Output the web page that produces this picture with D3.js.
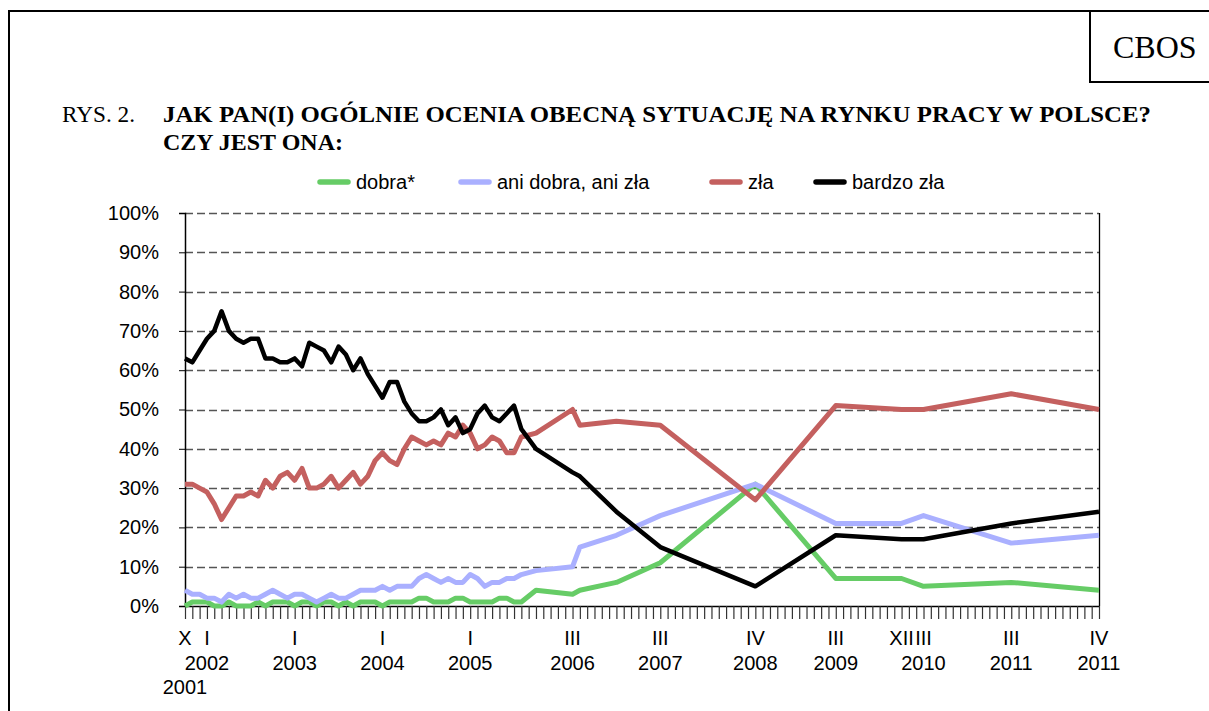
<!DOCTYPE html>
<html>
<head>
<meta charset="utf-8">
<script src="https://cdn.jsdelivr.net/npm/d3@7"></script>
<style>
  body { margin: 0; background: #fff; }
  svg { display: block; }
</style>
</head>
<body>
<div id="chart"></div>
<script>
// months counted from X 2001 (index 0) - one survey per index below
var surveyMonths = [0, 1, 2, 3, 4, 5, 6, 7, 8, 9, 10, 11, 12, 13, 14, 15, 16, 17, 18, 19,
  20, 21, 22, 23, 24, 25, 26, 27, 28, 29, 30, 31, 32, 33, 34, 35, 36, 37, 38, 39,
  40, 41, 42, 43, 44, 45, 46, 48, 53, 54, 59, 65, 78, 89, 98, 101, 113, 125];

var dobra = [0, 1, 1, 1, 0, 0, 1, 0, 0, 0, 1, 0, 1, 1, 1, 0, 1, 1, 0, 1,
  1, 0, 1, 0, 1, 1, 1, 0, 1, 1, 1, 1, 2, 2, 1, 1, 1, 2, 2, 1,
  1, 1, 1, 2, 2, 1, 1, 4, 3, 4, 6, 11, 31, 7, 7, 5, 6, 4];

var aniDobraAniZla = [4, 3, 3, 2, 2, 1, 3, 2, 3, 2, 2, 3, 4, 3, 2, 3, 3, 2, 1, 2,
  3, 2, 2, 3, 4, 4, 4, 5, 4, 5, 5, 5, 7, 8, 7, 6, 7, 6, 6, 8,
  7, 5, 6, 6, 7, 7, 8, 9, 10, 15, 18, 23, 31, 21, 21, 23, 16, 18];

var zla = [31, 31, 30, 29, 26, 22, 25, 28, 28, 29, 28, 32, 30, 33, 34, 32, 35, 30, 30, 31,
  33, 30, 32, 34, 31, 33, 37, 39, 37, 36, 40, 43, 42, 41, 42, 41, 44, 43, 46, 44,
  40, 41, 43, 42, 39, 39, 43, 44, 50, 46, 47, 46, 27, 51, 50, 50, 54, 50];

var bardzoZla = [63, 62, 65, 68, 70, 75, 70, 68, 67, 68, 68, 63, 63, 62, 62, 63, 61, 67, 66, 65,
  62, 66, 64, 60, 63, 59, 56, 53, 57, 57, 52, 49, 47, 47, 48, 50, 46, 48, 44, 45,
  49, 51, 48, 47, 49, 51, 45, 40, 34, 33, 24, 15, 5, 18, 17, 17, 21, 24];

var seriesNames = ["dobra*", "ani dobra, ani zła", "zła", "bardzo zła"];
var seriesColors = ["#66cc66", "#aab0ff", "#c4605f", "#000000"];

// x axis labels
var labelMonths = [0, 3, 15, 27, 39, 53, 65, 78, 89, 98, 101, 113, 125];
var labelMonthNames = ["X", "I", "I", "I", "I", "III", "III", "IV", "III", "XII", "III", "III", "IV"];
var labelYears = ["", "2002", "2003", "2004", "2005", "2006", "2007", "2008", "2009", "", "2010", "2011", "2011"];
var firstYear = "2001";
var lastMonth = 125;

var yTicks = [0, 10, 20, 30, 40, 50, 60, 70, 80, 90, 100];

var svgWidth = 1209;
var svgHeight = 711;

var margin = { top: 213, right: 110, bottom: 105, left: 185 };
var width = svgWidth - margin.left - margin.right;
var height = svgHeight - margin.top - margin.bottom;

var svg = d3.select("#chart")
  .append("svg")
  .attr("width", svgWidth)
  .attr("height", svgHeight);

// page frame
svg.append("line").attr("x1", 9).attr("x2", svgWidth).attr("y1", 11).attr("y2", 11)
  .attr("stroke", "#000").attr("stroke-width", 2);
svg.append("line").attr("x1", 9).attr("x2", 9).attr("y1", 10).attr("y2", svgHeight)
  .attr("stroke", "#000").attr("stroke-width", 2);
svg.append("line").attr("x1", 1090).attr("x2", 1090).attr("y1", 11).attr("y2", 82)
  .attr("stroke", "#000").attr("stroke-width", 2);
svg.append("line").attr("x1", 1089).attr("x2", svgWidth).attr("y1", 82).attr("y2", 82)
  .attr("stroke", "#000").attr("stroke-width", 2);

var serif = "'Liberation Serif', 'Times New Roman', serif";
var sans = "'Liberation Sans', Arial, sans-serif";

svg.append("text")
  .attr("x", 1113).attr("y", 58)
  .style("font-family", serif)
  .style("font-size", "32px")
  .text("CBOS");

// title
svg.append("text")
  .attr("x", 62).attr("y", 122)
  .style("font-family", serif).style("font-size", "23px")
  .attr("textLength", 73).attr("lengthAdjust", "spacingAndGlyphs")
  .text("RYS. 2.");
svg.append("text")
  .attr("x", 163).attr("y", 122)
  .style("font-family", serif).style("font-size", "23px").style("font-weight", "bold")
  .attr("textLength", 988).attr("lengthAdjust", "spacingAndGlyphs")
  .text("JAK PAN(I) OGÓLNIE OCENIA OBECNĄ SYTUACJĘ NA RYNKU PRACY W POLSCE?");
svg.append("text")
  .attr("x", 163).attr("y", 150)
  .style("font-family", serif).style("font-size", "23px").style("font-weight", "bold")
  .attr("textLength", 180).attr("lengthAdjust", "spacingAndGlyphs")
  .text("CZY JEST ONA:");

// legend
var legendX = [318, 459, 710, 814];
var legend = svg.append("g").attr("transform", "translate(0, 182)");
seriesNames.forEach(function(name, k) {
  var g = legend.append("g").attr("transform", `translate(${legendX[k]}, 0)`);
  g.append("line")
    .attr("x1", 2).attr("x2", 30).attr("y1", 0).attr("y2", 0)
    .attr("stroke", seriesColors[k]).attr("stroke-width", 5.5)
    .attr("stroke-linecap", "round");
  g.append("text")
    .attr("x", 38).attr("y", 7)
    .style("font-family", sans).style("font-size", "20px")
    .text(name);
});

var chartGroup = svg.append("g")
  .attr("transform", `translate(${margin.left}, ${margin.top})`);

var xScale = d3.scaleLinear().domain([0, lastMonth]).range([0, width]);
var yScale = d3.scaleLinear().domain([0, 100]).range([height, 0]);

// gridlines
chartGroup.append("g")
  .selectAll("line")
  .data(yTicks.filter(d => d > 0))
  .enter()
  .append("line")
  .attr("x1", 0).attr("x2", width)
  .attr("y1", d => Math.round(yScale(d)) + 0.5)
  .attr("y2", d => Math.round(yScale(d)) + 0.5)
  .attr("stroke", "#555")
  .attr("stroke-width", 1.3)
  .attr("stroke-dasharray", "8,4");

// right border of plot
chartGroup.append("line")
  .attr("x1", width + 0.5).attr("x2", width + 0.5)
  .attr("y1", yScale(100)).attr("y2", height)
  .attr("stroke", "#000").attr("stroke-width", 1.3);

// y axis
var leftAxis = d3.axisLeft(yScale)
  .tickValues(yTicks)
  .tickSize(6)
  .tickPadding(20)
  .tickFormat(d => d + "%");

var yAxis = chartGroup.append("g").call(leftAxis);
yAxis.selectAll("text")
  .style("font-family", sans).style("font-size", "20px").attr("fill", "#000");
yAxis.select(".domain").attr("stroke", "#000").attr("stroke-width", 1.5);

// x axis, one tick for every month
var bottomAxis = d3.axisBottom(xScale)
  .tickValues(d3.range(0, lastMonth + 1))
  .tickSize(13)
  .tickSizeOuter(0)
  .tickFormat("");

var xAxis = chartGroup.append("g")
  .attr("transform", `translate(0, ${height})`)
  .call(bottomAxis);
xAxis.select(".domain").attr("stroke", "#000").attr("stroke-width", 1.5);
xAxis.selectAll(".tick line").attr("stroke", "#333").attr("stroke-width", 1.2);

var xLabels = chartGroup.append("g").attr("transform", `translate(0, ${height})`);
labelMonths.forEach(function(m, k) {
  xLabels.append("text")
    .attr("x", xScale(m)).attr("y", 39)
    .attr("text-anchor", "middle")
    .style("font-family", sans).style("font-size", "20px")
    .text(labelMonthNames[k]);
  xLabels.append("text")
    .attr("x", xScale(m)).attr("y", 64)
    .attr("text-anchor", "middle")
    .style("font-family", sans).style("font-size", "20px")
    .text(labelYears[k]);
});
xLabels.append("text")
  .attr("x", xScale(labelMonths[0])).attr("y", 88)
  .attr("text-anchor", "middle")
  .style("font-family", sans).style("font-size", "20px")
  .text(firstYear);

// series lines
var allSeries = [dobra, aniDobraAniZla, zla, bardzoZla];
var lineGen = d3.line()
  .x(d => xScale(d.m))
  .y(d => yScale(d.v));

allSeries.forEach(function(values, k) {
  var pts = surveyMonths.map((m, j) => ({ m: m, v: values[j] }));
  chartGroup.append("path")
    .datum(pts)
    .attr("d", lineGen)
    .attr("fill", "none")
    .attr("stroke", seriesColors[k])
    .attr("stroke-width", k === 3 ? 4.5 : 5)
    .attr("stroke-linejoin", "round");
});
</script>
</body>
</html>
